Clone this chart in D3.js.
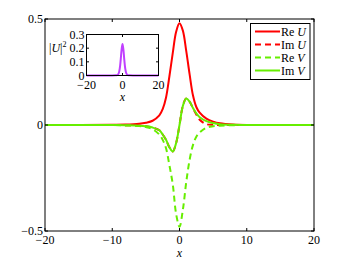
<!DOCTYPE html>
<html>
<head>
<meta charset="utf-8">
<script src="https://cdn.jsdelivr.net/npm/d3@7"></script>
<style>
  body { margin: 0; background: #fff; }
</style>
</head>
<body>
<svg width="346" height="260" font-family="'Liberation Serif', 'Times New Roman', serif"></svg>
<script>
// sample positions along x
const xs = [-20, -10, -8, -6, -5, -4, -3, -2.5, -2, -1.5, -1, -0.5, 0, 0.5, 1, 1.5, 2, 2.5, 3, 4, 5, 6, 8, 10, 20];

// field components
const reU = [0, 0.001, 0.002, 0.006, 0.011, 0.02, 0.045, 0.075, 0.13, 0.23, 0.34, 0.44, 0.48, 0.445, 0.35, 0.24, 0.14, 0.085, 0.058, 0.03, 0.016, 0.008, 0.002, 0, 0];
const imU = [0, 0, -0.001, -0.003, -0.006, -0.012, -0.025, -0.045, -0.07, -0.105, -0.125, -0.085, 0, 0.09, 0.125, 0.11, 0.08, 0.05, 0.025, 0.004, 0.001, 0, 0, 0, 0];
const reV = [0, 0, -0.002, -0.005, -0.01, -0.02, -0.045, -0.07, -0.11, -0.19, -0.28, -0.42, -0.48, -0.40, -0.27, -0.165, -0.095, -0.055, -0.035, -0.013, -0.006, -0.003, -0.001, 0, 0];
const imV = [0, 0, -0.001, -0.003, -0.006, -0.012, -0.025, -0.045, -0.07, -0.105, -0.125, -0.085, 0, 0.09, 0.125, 0.11, 0.08, 0.055, 0.037, 0.018, 0.009, 0.004, 0.001, 0, 0];

// inset |U|^2
const insetXs = [-20, -6, -4, -3, -2.5, -2, -1.5, -1, -0.5, 0, 0.5, 1, 1.5, 2, 2.5, 3, 4, 6, 20];
const absU2 = [0, 0, 0.001, 0.003, 0.007, 0.02, 0.053, 0.115, 0.19, 0.23, 0.19, 0.115, 0.053, 0.02, 0.007, 0.003, 0.001, 0, 0];

const xTicks = [-20, -10, 0, 10, 20];
const yTicks = [-0.5, 0, 0.5];
const insetXTicks = [-20, 0, 20];
const insetYTicks = [0, 0.1, 0.2, 0.3];

const seriesNames = ["Re U", "Im U", "Re V", "Im V"];
const red = "#ff0000", green = "#66ee00", purple = "#c040ff";
const series = [
  { name: seriesNames[0], vals: reU, color: red, dash: null },
  { name: seriesNames[1], vals: imU, color: red, dash: "6,4" },
  { name: seriesNames[2], vals: reV, color: green, dash: "6,4" },
  { name: seriesNames[3], vals: imV, color: green, dash: null }
];

const fmt = v => (v < 0 ? "\u2212" : "") + Math.abs(v);
const fs = 12;

const svg = d3.select("svg");

// main axes
const x = d3.scaleLinear().domain([-20, 20]).range([45, 314]);
const y = d3.scaleLinear().domain([-0.5, 0.5]).range([231, 19]);

const line = vals => d3.line()
  .x((d, i) => x(xs[i]))
  .y(d => y(d))
  .curve(d3.curveCatmullRom)(vals);

const plot = svg.append("g");
plot.append("defs").append("clipPath").attr("id", "clip")
  .append("rect").attr("x", 45).attr("y", 19).attr("width", 269).attr("height", 212);

series.forEach(s => {
  plot.append("path")
    .attr("d", line(s.vals))
    .attr("clip-path", "url(#clip)")
    .attr("fill", "none")
    .attr("stroke", s.color)
    .attr("stroke-width", 2)
    .attr("stroke-dasharray", s.dash);
});

// box + inward ticks
svg.append("rect").attr("x", 45).attr("y", 19).attr("width", 269).attr("height", 212)
  .attr("fill", "none").attr("stroke", "#000").attr("stroke-width", 1);

const tk = 3;
xTicks.forEach(t => {
  svg.append("line").attr("x1", x(t)).attr("x2", x(t)).attr("y1", 231).attr("y2", 231 - tk).attr("stroke", "#000");
  svg.append("line").attr("x1", x(t)).attr("x2", x(t)).attr("y1", 19).attr("y2", 19 + tk).attr("stroke", "#000");
  svg.append("text").attr("x", x(t)).attr("y", 244).attr("text-anchor", "middle")
    .attr("font-size", fs).text(fmt(t));
});
yTicks.forEach(t => {
  svg.append("line").attr("x1", 45).attr("x2", 45 + tk).attr("y1", y(t)).attr("y2", y(t)).attr("stroke", "#000");
  svg.append("line").attr("x1", 314).attr("x2", 314 - tk).attr("y1", y(t)).attr("y2", y(t)).attr("stroke", "#000");
  svg.append("text").attr("x", 43).attr("y", y(t) + 4).attr("text-anchor", "end")
    .attr("font-size", fs).text(fmt(t));
});
svg.append("text").attr("x", x(0)).attr("y", 257).attr("text-anchor", "middle")
  .attr("font-size", fs).attr("font-style", "italic").text("x");

// legend
const lg = svg.append("g");
lg.append("rect").attr("x", 250.5).attr("y", 23.5).attr("width", 59.5).attr("height", 56)
  .attr("fill", "#fff").attr("stroke", "#000").attr("stroke-width", 1);
series.forEach((s, i) => {
  const yy = 31.5 + i * 13;
  lg.append("line").attr("x1", 255).attr("x2", 280).attr("y1", yy).attr("y2", yy)
    .attr("stroke", s.color).attr("stroke-width", 2).attr("stroke-dasharray", s.dash);
  const parts = s.name.split(" ");
  const t = lg.append("text").attr("x", 281).attr("y", yy + 4).attr("font-size", fs);
  t.append("tspan").text(parts[0] + " ");
  t.append("tspan").attr("font-style", "italic").text(parts[1]);
});

// inset
const ix = d3.scaleLinear().domain([-20, 20]).range([86.5, 158.5]);
const iy = d3.scaleLinear().domain([0, 0.3]).range([75.5, 34.5]);
const ins = svg.append("g");
ins.append("rect").attr("x", 86.5).attr("y", 34.5).attr("width", 72).attr("height", 41)
  .attr("fill", "#fff").attr("stroke", "none");
ins.append("path")
  .attr("d", d3.line().x((d, i) => ix(insetXs[i])).y(d => iy(d)).curve(d3.curveCatmullRom)(absU2))
  .attr("fill", "none").attr("stroke", purple).attr("stroke-width", 2);
ins.append("rect").attr("x", 86.5).attr("y", 34.5).attr("width", 72).attr("height", 41)
  .attr("fill", "none").attr("stroke", "#000").attr("stroke-width", 1);
insetXTicks.forEach(t => {
  ins.append("line").attr("x1", ix(t)).attr("x2", ix(t)).attr("y1", 75.5).attr("y2", 73).attr("stroke", "#000");
  ins.append("line").attr("x1", ix(t)).attr("x2", ix(t)).attr("y1", 34.5).attr("y2", 37).attr("stroke", "#000");
  ins.append("text").attr("x", ix(t)).attr("y", 89).attr("text-anchor", "middle")
    .attr("font-size", fs).text(fmt(t));
});
insetYTicks.forEach(t => {
  ins.append("line").attr("x1", 86.5).attr("x2", 89).attr("y1", iy(t)).attr("y2", iy(t)).attr("stroke", "#000");
  ins.append("line").attr("x1", 158.5).attr("x2", 156).attr("y1", iy(t)).attr("y2", iy(t)).attr("stroke", "#000");
  ins.append("text").attr("x", 84.5).attr("y", iy(t) + 4).attr("text-anchor", "end")
    .attr("font-size", fs).text(t);
});
ins.append("text").attr("x", ix(0)).attr("y", 101).attr("text-anchor", "middle")
  .attr("font-size", fs).attr("font-style", "italic").text("x");
const yl = ins.append("text").attr("x", 49).attr("y", 52).attr("font-size", fs);
yl.append("tspan").text("|");
yl.append("tspan").attr("font-style", "italic").text("U");
yl.append("tspan").text("|");
yl.append("tspan").attr("font-size", 8).attr("dy", -5).text("2");
</script>
</body>
</html>
